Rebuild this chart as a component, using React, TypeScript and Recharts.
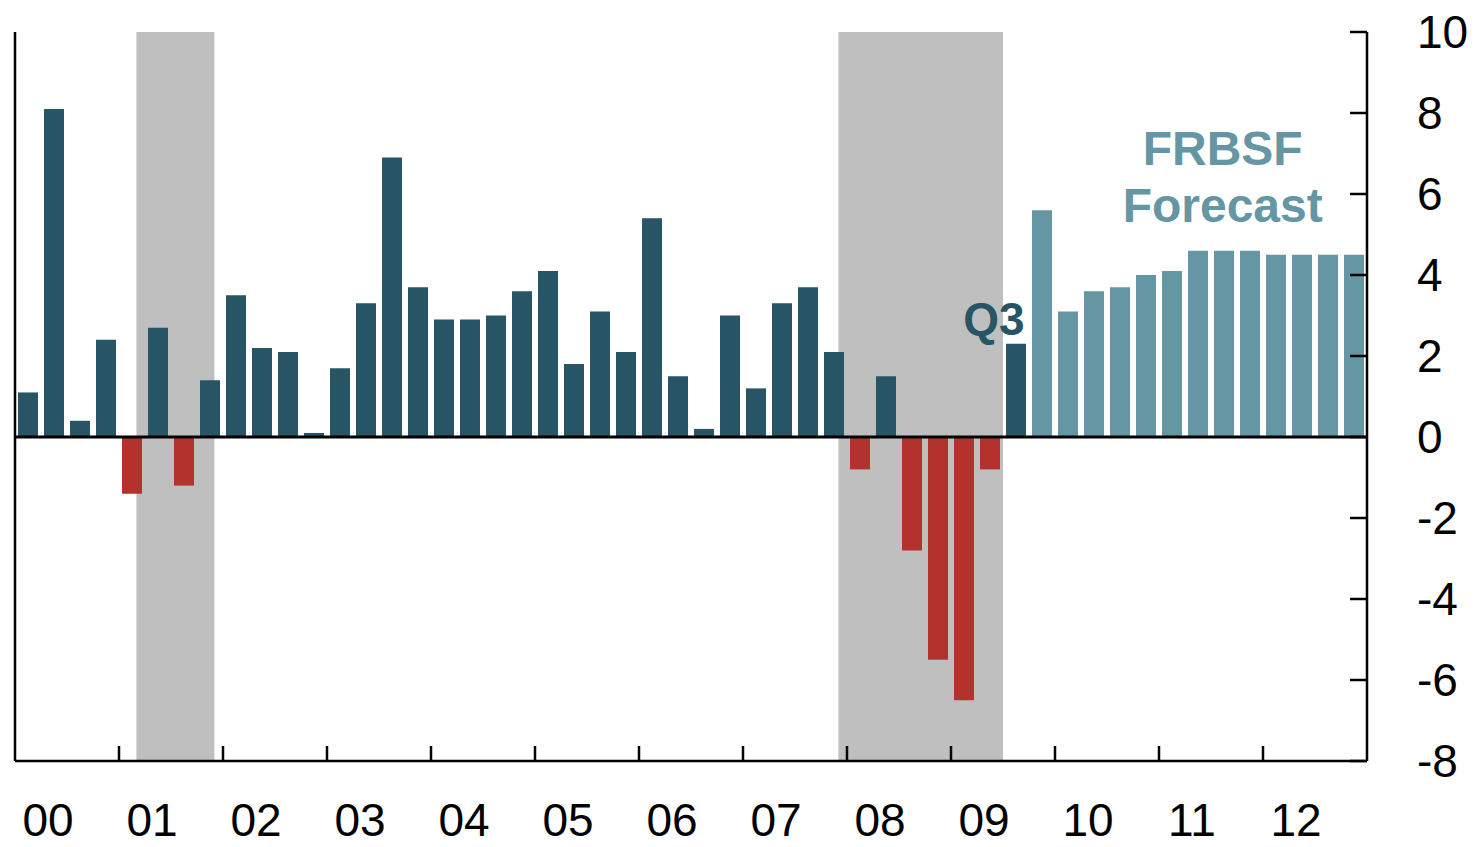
import { Bar, BarChart, Cell, ReferenceArea, ReferenceDot, ReferenceLine, XAxis, YAxis } from 'recharts';

const years = ['00', '01', '02', '03', '04', '05', '06', '07', '08', '09', '10', '11', '12'];

// real GDP growth, 2000Q1 .. 2009Q3
const actual = [
  1.1, 8.1, 0.4, 2.4, -1.4, 2.7, -1.2, 1.4, 3.5, 2.2, 2.1, 0.1, 1.7, 3.3, 6.9, 3.7, 2.9, 2.9, 3.0, 3.6,
  4.1, 1.8, 3.1, 2.1, 5.4, 1.5, 0.2, 3.0, 1.2, 3.3, 3.7, 2.1, -0.8, 1.5, -2.8, -5.5, -6.5, -0.8, 2.3,
];
// FRBSF forecast, 2009Q4 .. 2012Q4
const forecast = [5.6, 3.1, 3.6, 3.7, 4.0, 4.1, 4.6, 4.6, 4.6, 4.5, 4.5, 4.5, 4.5];

// recession spans, in quarters since 2000Q1
const recessionStart = [4.67, 31.67];
const recessionEnd = [7.67, 38.0];

const yTicks = [-8, -6, -4, -2, 0, 2, 4, 6, 8, 10];
const yearTicks = years.map((_, i) => i * 4);

const quarters = years.flatMap((y) => ['Q1', 'Q2', 'Q3', 'Q4'].map((q) => `${y}${q}`));
const data = quarters.map((q, i) => ({
  q,
  t: i + 0.5,
  value: i < actual.length ? actual[i] : forecast[i - actual.length],
  isForecast: i >= actual.length,
}));

const DARK = '#275565';
const LIGHT = '#6596a4';
const RED = '#b3322e';
const FONT = '"Liberation Sans", Arial, sans-serif';

const RightTick = ({ x, y, payload }: any) => (
  <g>
    <line x1={x - 17} x2={x} y1={y} y2={y} stroke="#000" strokeWidth={2.5} />
    <text x={x + 50} y={y} dy={16} fontSize={46} fontFamily={FONT} fill="#000">
      {payload.value}
    </text>
  </g>
);

const LeftTick = ({ x, y }: any) => <line x1={x} x2={x + 17} y1={y} y2={y} stroke="#000" strokeWidth={2.5} />;

const YearTick = ({ x, y, payload }: any) => (
  <g>
    {payload.value > 0 && <line x1={x} x2={x} y1={y - 15} y2={y} stroke="#000" strokeWidth={2.5} />}
    <text x={x + 33} y={y + 75} textAnchor="middle" fontSize={46} fontFamily={FONT} fill="#000">
      {years[payload.value / 4]}
    </text>
  </g>
);

export default function App() {
  return (
    <div style={{ position: 'absolute', left: 0, top: 0, background: '#fff' }}>
      <BarChart width={1480} height={847} data={data} margin={{ top: 32, right: 0, bottom: 0, left: 10 }}>
        <XAxis
          xAxisId="t"
          dataKey="t"
          type="number"
          domain={[0, 52]}
          allowDataOverflow
          ticks={yearTicks}
          height={86}
          tickSize={0}
          tickMargin={0}
          tickLine={false}
          axisLine={{ stroke: '#000', strokeWidth: 2.5 }}
          tick={<YearTick />}
          interval={0}
        />
        <XAxis xAxisId="q" dataKey="q" hide height={0} />
        <YAxis
          yAxisId="l"
          orientation="left"
          width={5}
          domain={[-8, 10]}
          ticks={yTicks}
          tickSize={0}
          tickMargin={0}
          tickLine={false}
          axisLine={{ stroke: '#000', strokeWidth: 2.5 }}
          tick={<LeftTick />}
          interval={0}
        />
        <YAxis
          yAxisId="r"
          orientation="right"
          width={113}
          domain={[-8, 10]}
          ticks={yTicks}
          tickSize={0}
          tickMargin={0}
          tickLine={false}
          axisLine={{ stroke: '#000', strokeWidth: 2.5 }}
          tick={<RightTick />}
          interval={0}
        />
        {recessionStart.map((s, i) => (
          <ReferenceArea
            key={s}
            xAxisId="t"
            yAxisId="r"
            x1={s}
            x2={recessionEnd[i]}
            y1={-8}
            y2={10}
            fill="#bfbfbf"
            fillOpacity={1}
            stroke="none"
          />
        ))}
        <Bar xAxisId="q" yAxisId="r" dataKey="value" barSize={20} isAnimationActive={false}>
          {data.map((d) => (
            <Cell key={d.q} fill={d.isForecast ? LIGHT : d.value < 0 ? RED : DARK} />
          ))}
        </Bar>
        <ReferenceLine xAxisId="t" yAxisId="r" y={0} stroke="#000" strokeWidth={3} />
        <ReferenceDot
          xAxisId="t"
          yAxisId="r"
          x={37.65}
          y={2.95}
          r={1}
          shape={(p: any) => (
            <text x={p.cx} y={p.cy + 17} textAnchor="middle" fontSize={46} fontWeight="bold" fontFamily={FONT} fill={DARK}>
              Q3
            </text>
          )}
        />
        <ReferenceDot
          xAxisId="t"
          yAxisId="r"
          x={46.45}
          y={6.72}
          r={1}
          shape={(p: any) => (
            <text textAnchor="middle" fontSize={48} fontWeight="bold" fontFamily={FONT} fill={LIGHT}>
              <tspan x={p.cx} y={p.cy}>FRBSF</tspan>
              <tspan x={p.cx} y={p.cy + 57}>Forecast</tspan>
            </text>
          )}
        />
      </BarChart>
    </div>
  );
}
